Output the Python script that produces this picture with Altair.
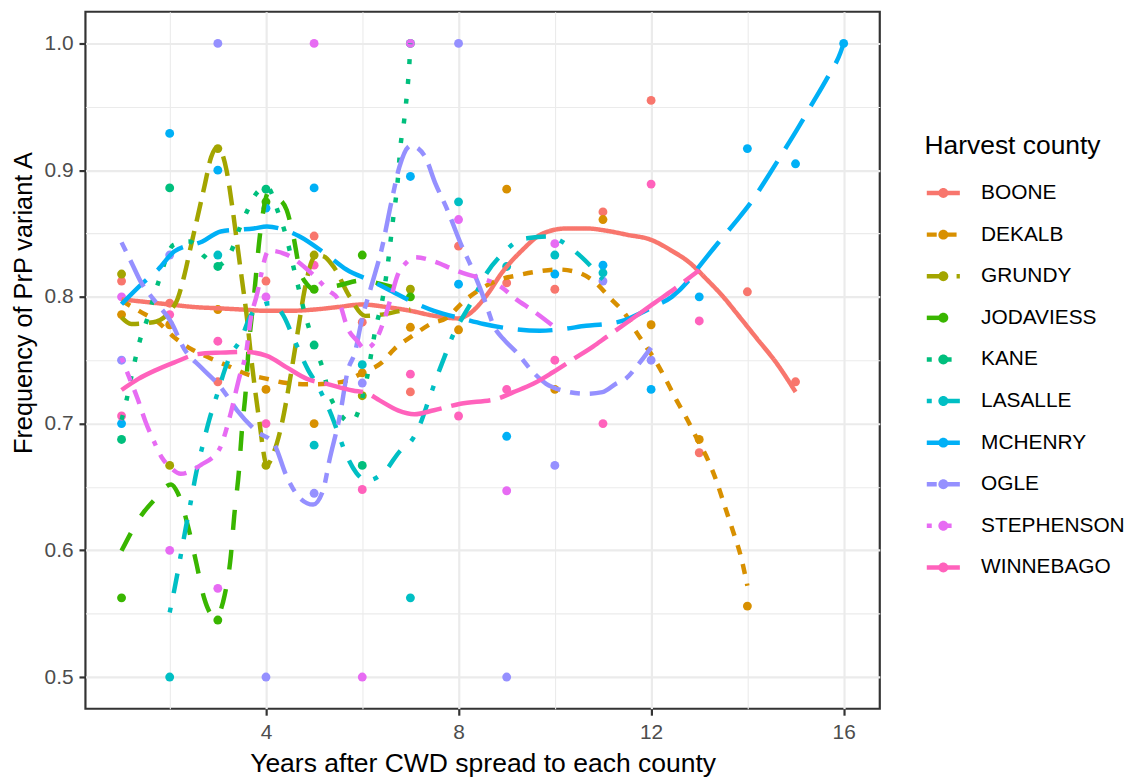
import altair as alt
import pandas as pd

counties = ["BOONE", "DEKALB", "GRUNDY", "JODAVIESS", "KANE",
            "LASALLE", "MCHENRY", "OGLE", "STEPHENSON", "WINNEBAGO"]
colors = ["#F8766D", "#D89000", "#A3A500", "#39B600", "#00BF7D",
          "#00BFC4", "#00B0F6", "#9590FF", "#E76BF3", "#FF62BC"]
dashes = [[1, 0], [10, 10], [20, 10], [20, 20], [5, 15],
          [5, 15, 20, 15], [35, 15], [10, 10, 30, 10],
          [5, 10, 10, 10, 15, 10, 20, 10], [75, 10, 40, 10]]

x_ticks = [2, 4, 6, 8, 10, 12, 14, 16]
y_ticks = [0.5, 0.55, 0.6, 0.65, 0.7, 0.75, 0.8, 0.85, 0.9, 0.95, 1.0]

# ---- observed frequencies (points) ----
boone_x = [1, 2, 3, 4, 5, 6, 7, 8, 9, 10, 11, 12, 13, 14, 15]
boone_y = [0.8125, 0.795, 0.733, 0.8125, 0.848, 0.78, 0.725, 0.84, 0.811, 0.806, 0.867, 0.955, 0.677, 0.804, 0.733]
dekalb_x = [1, 2, 3, 4, 5, 6, 7, 8, 9, 10, 11, 12, 13, 14]
dekalb_y = [0.786, 0.778, 0.79, 0.727, 0.70, 0.74, 0.776, 0.774, 0.885, 0.727, 0.861, 0.778, 0.6875, 0.556]
grundy_x = [1, 2, 3, 4, 5, 6, 7]
grundy_y = [0.818, 0.667, 0.917, 0.667, 0.833, 0.722, 0.806]
jodaviess_x = [1, 3, 4, 5, 6, 7]
jodaviess_y = [0.5625, 0.545, 0.875, 0.806, 0.833, 0.80]
kane_x = [1, 2, 3, 4, 5, 6, 7]
kane_y = [0.6875, 0.886, 0.824, 0.885, 0.762, 0.667, 1.0]
lasalle_x = [2, 3, 5, 6, 7, 8, 9, 10, 11]
lasalle_y = [0.5, 0.833, 0.683, 0.7465, 0.5625, 0.875, 0.824, 0.833, 0.819]
mchenry_x = [1, 2, 3, 4, 5, 7, 8, 9, 10, 11, 12, 13, 14, 15, 16]
mchenry_y = [0.70, 0.929, 0.90, 0.87, 0.886, 0.895, 0.81, 0.69, 0.818, 0.825, 0.727, 0.80, 0.917, 0.905, 1.0]
ogle_x = [1, 2, 3, 4, 5, 6, 8, 9, 10, 11, 12]
ogle_y = [0.75, 0.833, 1.0, 0.5, 0.645, 0.732, 1.0, 0.5, 0.667, 0.8125, 0.75]
stephenson_x = [1, 2, 3, 4, 5, 6, 7, 8, 9, 10]
stephenson_y = [0.80, 0.60, 0.57, 0.80, 1.0, 0.5, 1.0, 0.861, 0.647, 0.842]
winnebago_x = [1, 2, 3, 4, 5, 6, 7, 8, 9, 10, 11, 12, 13]
winnebago_y = [0.706, 0.786, 0.765, 0.70, 0.825, 0.648, 0.739, 0.706, 0.727, 0.75, 0.70, 0.889, 0.781]

# ---- smoothed trend lines ----
boone_fx = [1, 1.5, 2, 2.5, 3, 3.5, 4, 4.5, 5, 5.5, 6, 6.5, 7, 7.5, 8, 8.2, 8.6, 8.9, 9.3, 9.75,
            10.25, 10.65, 11.1, 11.5, 12, 12.4, 12.8, 13.15, 13.5, 13.8, 14.2, 14.6, 15]
boone_fy = [0.798, 0.796, 0.794, 0.792, 0.791, 0.790, 0.789, 0.789, 0.790, 0.792, 0.794, 0.792, 0.789,
            0.785, 0.783, 0.786, 0.802, 0.819, 0.836, 0.850, 0.854, 0.854, 0.852, 0.849, 0.845, 0.837,
            0.827, 0.814, 0.800, 0.786, 0.767, 0.748, 0.725]
dekalb_fx = [1, 1.38, 1.76, 2.1, 2.44, 2.79, 3.2, 3.6, 4.0, 4.43, 4.85, 5.26, 5.67, 6.0, 6.4, 6.67,
             7.05, 7.42, 7.77, 8.08, 8.45, 8.83, 9.24, 9.69, 10.07, 10.5, 10.85, 11.15, 11.47, 11.68,
             11.88, 12.1, 12.33, 12.53, 12.74, 12.95, 13.18, 13.36, 13.53, 13.7, 13.87, 14.0]
dekalb_fy = [0.797, 0.7885, 0.780, 0.768, 0.759, 0.7525, 0.7457, 0.739, 0.7355, 0.732, 0.731, 0.7314,
             0.734, 0.740, 0.748, 0.759, 0.7694, 0.7786, 0.7838, 0.7955, 0.806, 0.8133, 0.8171, 0.8203,
             0.8216, 0.819, 0.811, 0.799, 0.786, 0.773, 0.7616, 0.749, 0.733, 0.7183, 0.704, 0.6883,
             0.6714, 0.6544, 0.6348, 0.6153, 0.5944, 0.572]
grundy_fx = [1, 1.2, 1.66, 2.13, 2.3, 2.44, 2.58, 2.72, 2.86, 3.0, 3.18, 3.3, 3.4, 3.5, 3.6, 3.68,
             3.85, 4.02, 4.16, 4.33, 4.5, 4.65, 4.8, 4.95, 5.05, 5.2, 5.4, 5.74, 6.06, 6.4, 6.81, 7.0]
grundy_fy = [0.7838, 0.7786, 0.780, 0.7955, 0.8164, 0.84, 0.8633, 0.8868, 0.9102, 0.918, 0.90, 0.871,
             0.8425, 0.8138, 0.785, 0.7564, 0.7053, 0.6674, 0.677, 0.70, 0.735, 0.77, 0.805, 0.828,
             0.833, 0.832, 0.824, 0.80, 0.785, 0.786, 0.789, 0.79]
jodaviess_fx = [1, 1.45, 1.66, 2.03, 2.17, 2.38, 2.55, 2.72, 2.95, 3.14, 3.27, 3.34, 3.44, 3.5, 3.58,
                3.63, 3.75, 3.88, 4.06, 4.25, 4.43, 4.57, 4.7, 4.85, 5.0, 5.5, 6.0, 6.5, 7.0]
jodaviess_fy = [0.5996, 0.6296, 0.639, 0.652, 0.645, 0.619, 0.5905, 0.5618, 0.547, 0.5644, 0.5957, 0.627,
                0.6635, 0.6948, 0.7261, 0.7548, 0.80, 0.8503, 0.8829, 0.878, 0.8685, 0.8477, 0.8216, 0.81,
                0.806, 0.809, 0.813, 0.809, 0.804]
kane_fx = [1, 1.1, 1.18, 1.28, 1.38, 1.52, 1.76, 2.08, 2.41, 2.72, 3.0, 3.29, 3.44, 3.6, 3.8, 4.02,
           4.26, 4.4, 4.6, 4.7, 4.8, 4.92, 5.0, 5.19, 5.3, 5.46, 5.77, 6.07, 6.3, 6.4, 6.53, 6.63, 6.73,
           6.8, 6.86, 6.91, 6.95, 6.98, 7.0]
kane_fy = [0.703, 0.718, 0.733, 0.75, 0.7655, 0.781, 0.811, 0.841, 0.8437, 0.832, 0.825, 0.837, 0.853,
           0.867, 0.8816, 0.8868, 0.866, 0.8503, 0.819, 0.8034, 0.7877, 0.772, 0.762, 0.742, 0.725,
           0.712, 0.701, 0.731, 0.779, 0.794, 0.8255, 0.858, 0.889, 0.921, 0.936, 0.953, 0.969, 0.985, 1.0]
lasalle_fx = [2, 2.1, 2.34, 2.44, 2.55, 2.68, 2.82, 3.0, 3.14, 3.24, 3.48, 3.68, 3.85, 4.1, 4.35, 4.6,
              4.88, 5.05, 5.4, 5.5, 5.67, 5.88, 6.1, 6.46, 6.8, 6.98, 7.18, 7.39, 7.56, 7.73, 7.8, 8.3,
              8.59, 8.93, 9.28, 9.46, 9.9, 10.08, 10.5, 10.85, 11.0]
lasalle_fy = [0.551, 0.5696, 0.619, 0.6387, 0.661, 0.682, 0.7027, 0.7248, 0.742, 0.752, 0.7668, 0.785,
              0.792, 0.795, 0.786, 0.765, 0.742, 0.7314, 0.7027, 0.6922, 0.6753, 0.661, 0.655, 0.662,
              0.679, 0.6844, 0.6975, 0.7196, 0.7379, 0.7548, 0.762, 0.798, 0.819, 0.8347, 0.845, 0.8464,
              0.8477, 0.845, 0.8333, 0.82, 0.8138]
mchenry_fx = [1, 1.45, 1.76, 2.1, 2.68, 3.06, 3.75, 4.02, 4.37, 4.7, 5.26, 5.67, 6.19, 6.53, 7.15, 7.49,
              8.11, 8.52, 9.14, 9.69, 10.17, 10.65, 11.06, 11.4, 11.74, 12.08, 12.43, 12.77, 13.0, 13.39,
              13.73, 14.11, 14.42, 14.7, 15.04, 15.32, 15.66, 15.93, 16]
mchenry_fy = [0.7942, 0.8112, 0.8216, 0.836, 0.8437, 0.8516, 0.854, 0.8555, 0.853, 0.8477, 0.8333,
              0.8216, 0.8125, 0.806, 0.7942, 0.789, 0.7825, 0.7786, 0.7746, 0.7733, 0.7746, 0.7772,
              0.7786, 0.781, 0.7864, 0.7928, 0.80, 0.8125, 0.824, 0.8425, 0.858, 0.8764, 0.8946, 0.9116,
              0.9325, 0.9507, 0.9728, 0.9924, 1.0]
ogle_fx = [1, 1.21, 1.41, 1.69, 2.03, 2.3, 2.65, 3.06, 3.4, 3.82, 4.16, 4.43, 4.7, 4.98, 5.19, 5.32,
           5.53, 5.7, 5.85, 5.98, 6.2, 6.4, 6.6, 6.77, 7.01, 7.29, 7.52, 7.77, 8.04, 8.32, 8.56, 8.73,
           8.93, 9.2, 9.55, 9.82, 10.17, 10.65, 10.99, 11.27, 11.47, 11.74, 12]
ogle_fy = [0.843, 0.8268, 0.8112, 0.7968, 0.78, 0.759, 0.7444, 0.7287, 0.7105, 0.6935, 0.6844, 0.6583,
           0.6414, 0.6361, 0.6479, 0.6714, 0.7053, 0.7418, 0.7564, 0.78, 0.81, 0.8372, 0.8738, 0.9024,
           0.9194, 0.9116, 0.8894, 0.8685, 0.8425, 0.819, 0.7955, 0.7772, 0.7668, 0.7564, 0.7405, 0.7314,
           0.7261, 0.7235, 0.7248, 0.7314, 0.7353, 0.747, 0.760]
stephenson_fx = [1, 1.07, 1.33, 1.5, 1.66, 1.84, 2.0, 2.23, 2.65, 3.03, 3.24, 3.44, 3.6, 3.68, 3.8,
                 4.06, 4.43, 4.95, 5.3, 5.5, 5.7, 5.9, 6.05, 6.26, 6.46, 6.6, 6.74, 6.91, 7.1, 7.49, 7.9,
                 8.18, 8.45, 8.86, 9.2, 9.55, 9.96, 10]
stephenson_fy = [0.752, 0.745, 0.72, 0.7013, 0.687, 0.673, 0.666, 0.6604, 0.6674, 0.6797, 0.7042,
                 0.7355, 0.759, 0.782, 0.80, 0.8365, 0.8333, 0.8185, 0.805, 0.798, 0.775, 0.765, 0.759,
                 0.7645, 0.7825, 0.80, 0.8177, 0.8268, 0.8312, 0.828, 0.8216, 0.8177, 0.815, 0.8085,
                 0.798, 0.789, 0.7772, 0.776]
winnebago_fx = [1, 1.35, 1.69, 2.1, 2.58, 3.06, 3.54, 4.02, 4.43, 4.85, 5.26, 5.8, 6.1, 6.36, 6.74,
                7.08, 7.49, 8.04, 8.8, 9.14, 9.55, 9.96, 10.44, 10.8, 11.06, 11.6, 12.08, 12.43, 12.84, 13]
winnebago_fy = [0.7265, 0.7353, 0.7418, 0.7483, 0.7548, 0.756, 0.7566, 0.7535, 0.7444, 0.7353, 0.7314,
                0.7261, 0.724, 0.7183, 0.7105, 0.7074, 0.7105, 0.7157, 0.7196, 0.7248, 0.7314, 0.7405,
                0.7522, 0.761, 0.768, 0.7825, 0.7955, 0.8047, 0.8164, 0.821]

point_sets = [(boone_x, boone_y), (dekalb_x, dekalb_y), (grundy_x, grundy_y),
              (jodaviess_x, jodaviess_y), (kane_x, kane_y), (lasalle_x, lasalle_y),
              (mchenry_x, mchenry_y), (ogle_x, ogle_y), (stephenson_x, stephenson_y),
              (winnebago_x, winnebago_y)]
fit_sets = [(boone_fx, boone_fy), (dekalb_fx, dekalb_fy), (grundy_fx, grundy_fy),
            (jodaviess_fx, jodaviess_fy), (kane_fx, kane_fy), (lasalle_fx, lasalle_fy),
            (mchenry_fx, mchenry_fy), (ogle_fx, ogle_fy), (stephenson_fx, stephenson_fy),
            (winnebago_fx, winnebago_fy)]

pts = pd.concat([pd.DataFrame({"county": c, "year": xs, "freq": ys})
                 for c, (xs, ys) in zip(counties, point_sets)], ignore_index=True)
fits = pd.concat([pd.DataFrame({"county": c, "year": xs, "freq": ys})
                  for c, (xs, ys) in zip(counties, fit_sets)], ignore_index=True)

FONT = "Liberation Sans"

x_enc = alt.X("year:Q", scale=alt.Scale(domain=[0.25, 16.75], nice=False, zero=False),
              axis=alt.Axis(values=x_ticks, title="Years after CWD spread to each county",
                            labelExpr="datum.value % 4 === 0 ? datum.label : ''",
                            gridColor="#EBEBEB",
                            gridWidth={"condition": {"test": "datum.value % 4 === 0", "value": 2.2}, "value": 1.1},
                            tickOpacity={"condition": {"test": "datum.value % 4 === 0", "value": 1}, "value": 0},
                            tickColor="#333333", tickWidth=2.2, tickSize=6.5, domain=False,
                            labelFont=FONT, labelFontSize=21, labelColor="#4D4D4D", labelPadding=6,
                            labelFlush=False, labelOverlap=False,
                            titleFont=FONT, titleFontSize=26.7, titleFontWeight="normal",
                            titleColor="black", titlePadding=9))
y_enc = alt.Y("freq:Q", scale=alt.Scale(domain=[0.475, 1.025], nice=False, zero=False),
              axis=alt.Axis(values=y_ticks, title="Frequency of PrP variant A",
                            labelExpr="round(datum.value*100) % 10 === 0 ? format(datum.value, '.1f') : ''",
                            gridColor="#EBEBEB",
                            gridWidth={"condition": {"test": "round(datum.value*100) % 10 === 0", "value": 2.2}, "value": 1.1},
                            tickOpacity={"condition": {"test": "round(datum.value*100) % 10 === 0", "value": 1}, "value": 0},
                            tickColor="#333333", tickWidth=2.2, tickSize=6.5, domain=False,
                            labelFont=FONT, labelFontSize=21, labelColor="#4D4D4D", labelPadding=6,
                            labelFlush=False, labelOverlap=False,
                            titleFont=FONT, titleFontSize=25.5, titleFontWeight="normal",
                            titleColor="black", titlePadding=8, titleY=293))

common_leg = dict(orient="none", padding=0, legendX=845, legendY=122,
                  labelFont=FONT, labelFontSize=21, labelColor="black",
                  titleFont=FONT, titleFontSize=26.6, titleFontWeight="normal", titleColor="black",
                  titlePadding=15, rowPadding=12.9, labelOffset=19)

# line keys: ceil(sqrt(1109) + 4.5) = 38 px entry size
line_leg = alt.Legend(title="Harvest county", symbolType="stroke", symbolSize=1109,
                      symbolStrokeWidth=4.5, **common_leg)
# point keys: ceil(sqrt(1440) + 0) = 38 px entry size, circle radius 0.264 * 19 = 5 px
point_leg = alt.Legend(title=" ", labelExpr="' '",
                       symbolType="M-0.264,0A0.264,0.264,0,1,1,0.264,0A0.264,0.264,0,1,1,-0.264,0Z",
                       symbolSize=1440, symbolStrokeWidth=0, **common_leg)

points = alt.Chart(pts).mark_circle(size=80, opacity=1).encode(
    x=x_enc, y=y_enc,
    fill=alt.Fill("county:N", scale=alt.Scale(range=colors), legend=point_leg),
)

lines = alt.Chart(fits).mark_line(strokeWidth=4.5, interpolate="monotone").encode(
    x="year:Q", y="freq:Q",
    stroke=alt.Stroke("county:N", scale=alt.Scale(domain=counties, range=colors), legend=line_leg),
    strokeDash=alt.StrokeDash("county:N", scale=alt.Scale(domain=counties, range=dashes), legend=line_leg),
)

chart = alt.layer(points, lines).properties(
    width=800, height=702,
    padding={"left": 78, "top": 1, "right": 250, "bottom": 66},
    autosize=alt.AutoSizeParams(type="none"),
    background="white",
).configure_view(stroke="#333333", strokeWidth=2.2)

chart.save("out.html", embed_options={"renderer": "svg", "actions": False})
